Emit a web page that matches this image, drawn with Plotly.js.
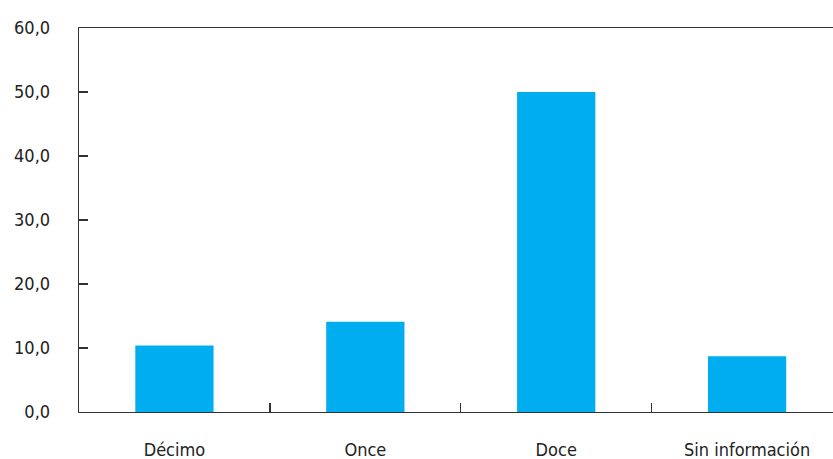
<!DOCTYPE html>
<html>
<head>
<meta charset="utf-8">
<script src="https://cdn.plot.ly/plotly-3.0.1.min.js"></script>
<style>html,body{margin:0;padding:0;background:#fff;}</style>
</head>
<body>
<div id="chart" style="width:833px;height:459px;"></div>
<script>
const categories = ["Décimo", "Once", "Doce", "Sin información"];
const values = [10.4, 14.1, 50.0, 8.7];
const yTickVals = [0, 10, 20, 30, 40, 50, 60];
const yTickText = ["0,0", "10,0", "20,0", "30,0", "40,0", "50,0", "60,0"];

const font = "'DejaVu Sans Condensed', 'Liberation Sans', Arial, sans-serif";

Plotly.newPlot("chart", [{
  type: "bar",
  x: categories,
  y: values,
  width: 0.41,
  marker: {color: "#00AEEF", line: {width: 0}},
  hoverinfo: "none"
}], {
  width: 833,
  height: 459,
  margin: {l: 79, r: 0, t: 28, b: 47, pad: 0},
  paper_bgcolor: "#fff",
  plot_bgcolor: "#fff",
  showlegend: false,
  font: {family: font, size: 18, color: "#222"},
  xaxis: {
    type: "category",
    range: [-0.5, 3.45],
    showline: true,
    linecolor: "#333",
    linewidth: 1.3,
    mirror: true,
    ticks: "inside",
    tickson: "boundaries",
    ticklen: 9,
    tickcolor: "#333",
    tickwidth: 1.3,
    showgrid: false,
    ticklabelstandoff: 21,
    tickfont: {family: font, size: 18, color: "#222"}
  },
  yaxis: {
    range: [0, 60],
    tickvals: yTickVals,
    ticktext: yTickText,
    showline: true,
    linecolor: "#333",
    linewidth: 1.3,
    ticks: "inside",
    ticklen: 9,
    tickcolor: "#333",
    tickwidth: 1.3,
    showgrid: false,
    zeroline: false,
    ticklabelstandoff: 24,
    tickfont: {family: font, size: 18, color: "#222"}
  }
}, {staticPlot: true});
</script>
</body>
</html>
